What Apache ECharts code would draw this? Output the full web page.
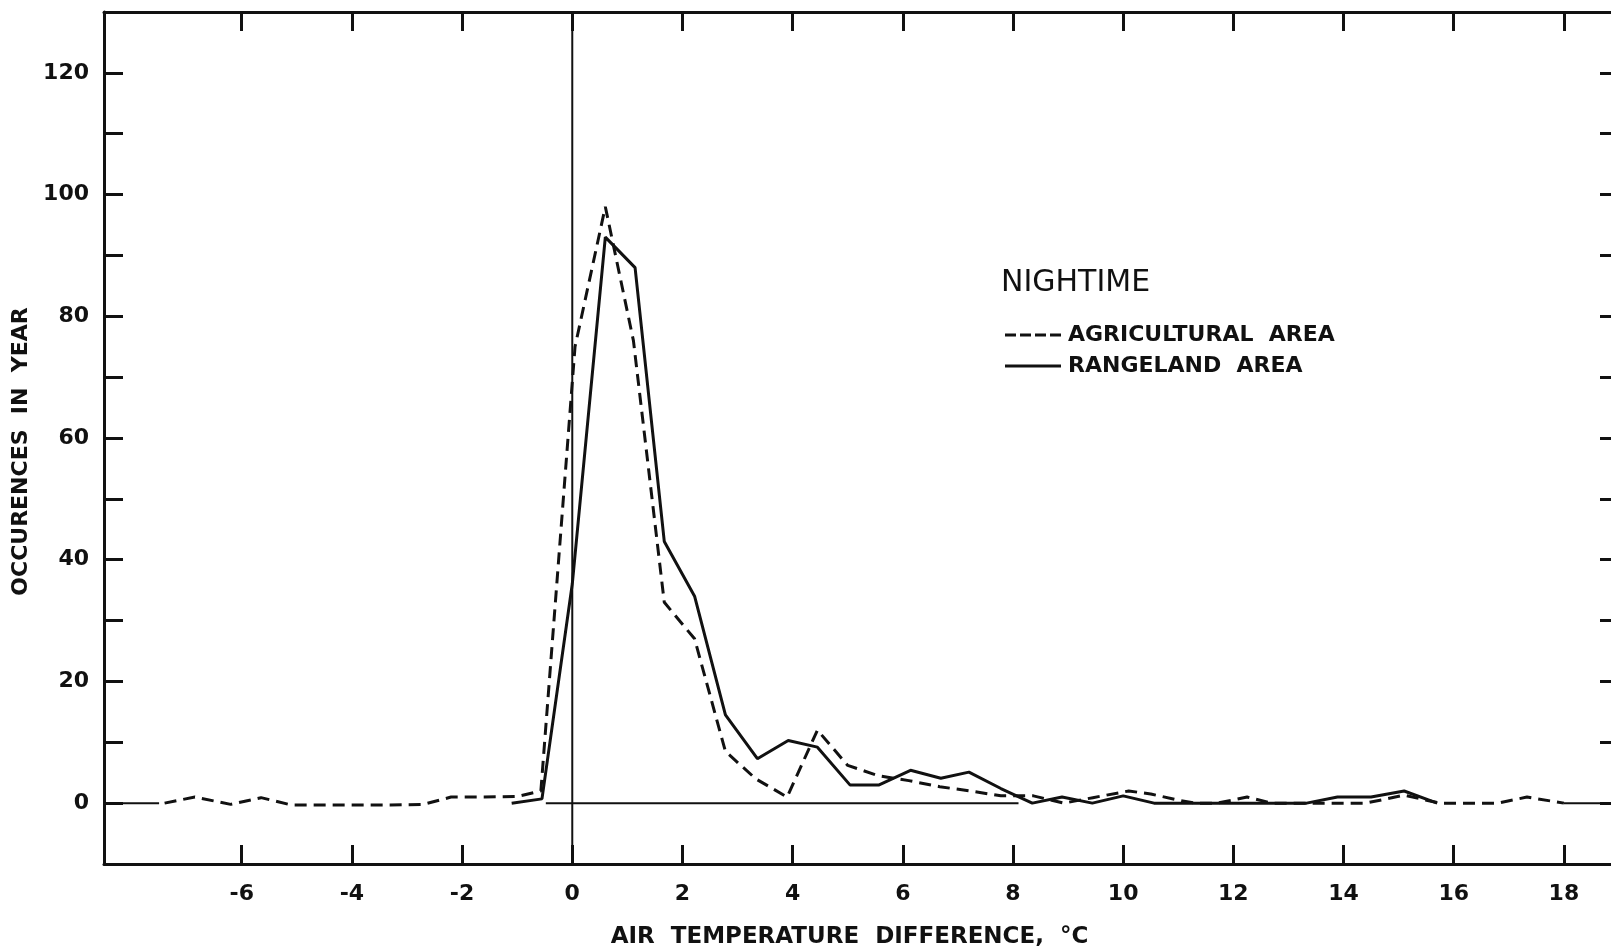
<!DOCTYPE html>
<html>
<head>
<meta charset="utf-8">
<script src="https://cdn.jsdelivr.net/npm/echarts@6/dist/echarts.min.js"></script>
<style>
  html, body { margin: 0; padding: 0; background: #fff; }
  #chart { width: 1611px; height: 949px; }
</style>
</head>
<body>
<div id="chart"></div>
<script>
// values
const agriTemp = [-7.4, -6.85, -6.2, -5.65, -5.1, -4.5, -3.9, -3.3, -2.7, -2.2, -1.6, -1.0, -0.57, 0.05, 0.6, 1.11, 1.67, 2.22, 2.78, 3.33, 3.9, 4.45, 5.0, 5.56, 6.11, 6.67, 7.22, 7.78, 8.37, 8.92, 9.45, 10.1, 10.5, 11.0, 11.3, 11.7, 12.25, 12.7, 13.3, 13.8, 14.4, 15.1, 15.75, 16.3, 16.8, 17.33, 18.0];
const agriCount = [0, 1, -0.2, 0.9, -0.3, -0.3, -0.3, -0.3, -0.2, 1, 1, 1.1, 2, 75, 98, 76, 33, 27, 8.5, 4, 1, 12, 6.2, 4.5, 3.7, 2.7, 2, 1.2, 1.2, 0, 0.9, 2, 1.5, 0.5, 0, 0, 1, 0, 0, 0, 0, 1.3, 0, 0, 0, 1, 0];

const rangeTemp = [-1.1, -0.55, 0, 0.6, 1.14, 1.67, 2.22, 2.78, 3.36, 3.92, 4.45, 5.04, 5.57, 6.14, 6.69, 7.2, 7.78, 8.35, 8.89, 9.44, 10.0, 10.56, 11.11, 11.67, 12.22, 12.78, 13.33, 13.89, 14.5, 15.1, 15.7];
const rangeCount = [0, 0.7, 36, 93, 88, 43, 34, 14.5, 7.3, 10.3, 9.2, 3, 3, 5.4, 4.1, 5.1, 2.4, 0, 1, 0, 1.2, 0, 0, 0, 0, 0, 0, 1, 1, 2, 0];

// pieces of the drawn zero lines
const baseSegments = [[-8.5, -7.5], [-0.48, 8.1], [18.0, 19]];
const zeroTempLine = [[0, -10], [0, 130]];

const xTicks = [-6, -4, -2, 0, 2, 4, 6, 8, 10, 12, 14, 16, 18];
const yTicks = [0, 10, 20, 30, 40, 50, 60, 70, 80, 90, 100, 110, 120];
const yLabels = [0, 20, 40, 60, 80, 100, 120];

const INK = '#111';
const FONT = 'DejaVu Sans';

const pairs = (xs, ys) => xs.map((x, i) => [x, ys[i]]);

let baseData = [];
baseSegments.forEach((s, i) => {
  if (i > 0) baseData.push([s[0], '-']);
  baseData.push([s[0], 0]);
  baseData.push([s[1], 0]);
});

const xAxisBase = {
  type: 'value',
  min: -8.5,
  max: 19,
  axisLine: { show: true, onZero: false, lineStyle: { color: INK, width: 3 } },
  axisTick: { show: true, inside: true, length: 19, customValues: xTicks, lineStyle: { color: INK, width: 3 } },
  splitLine: { show: false }
};
const yAxisBase = {
  type: 'value',
  min: -10,
  max: 130,
  interval: 10,
  axisLine: { show: true, onZero: false, lineStyle: { color: INK, width: 3 } },
  axisTick: { show: true, inside: true, length: 19, customValues: yTicks, lineStyle: { color: INK, width: 3 } },
  splitLine: { show: false }
};

const chart = echarts.init(document.getElementById('chart'));
chart.setOption({
  animation: false,
  backgroundColor: '#fff',
  textStyle: { fontFamily: FONT },
  grid: { left: 104, top: 12, right: -8, bottom: 85, outerBoundsMode: 'none' },
  title: {
    text: 'NIGHTIME',
    left: 996,
    top: 263,
    textStyle: { fontFamily: FONT, fontSize: 30, fontWeight: 'normal', color: INK }
  },
  legend: {
    orient: 'vertical',
    left: 1000,
    top: 319,
    itemWidth: 56,
    itemHeight: 3,
    itemGap: 9,
    data: [
      { name: 'AGRICULTURAL  AREA', icon: 'path://M0,0H11V3H0Z M15,0H26V3H15Z M30,0H41V3H30Z M45,0H56V3H45Z' },
      { name: 'RANGELAND  AREA', icon: 'path://M0,0H56V3H0Z' }
    ],
    itemStyle: { color: INK },
    textStyle: { fontFamily: FONT, fontSize: 22, fontWeight: 'bold', color: INK, padding: [0, 0, 0, 2] }
  },
  xAxis: [
    Object.assign({}, xAxisBase, {
      position: 'bottom',
      name: 'AIR  TEMPERATURE  DIFFERENCE,  \u00b0C',
      nameLocation: 'middle',
      nameGap: 62,
      nameTextStyle: { fontFamily: FONT, fontSize: 23, fontWeight: 'bold', color: INK, padding: [0, 24, 0, 0] },
      axisLabel: { show: true, customValues: xTicks, margin: 19, fontFamily: FONT, fontSize: 22, fontWeight: 'bold', color: INK }
    }),
    Object.assign({}, xAxisBase, { position: 'top', axisLabel: { show: false } })
  ],
  yAxis: [
    Object.assign({}, yAxisBase, {
      position: 'left',
      name: 'OCCURENCES  IN  YEAR',
      nameLocation: 'middle',
      nameGap: 69,
      nameTextStyle: { fontFamily: FONT, fontSize: 22, fontWeight: 'bold', color: INK, padding: [0, 27, 0, 0] },
      axisLabel: { show: true, customValues: yLabels, margin: 15, fontFamily: FONT, fontSize: 22, fontWeight: 'bold', color: INK }
    }),
    Object.assign({}, yAxisBase, { position: 'right', axisLabel: { show: false } })
  ],
  series: [
    {
      name: 'zero',
      type: 'line',
      data: baseData,
      symbol: 'none',
      silent: true,
      connectNulls: false,
      lineStyle: { color: INK, width: 2 }
    },
    {
      name: 'zero temp',
      type: 'line',
      data: zeroTempLine,
      symbol: 'none',
      silent: true,
      lineStyle: { color: INK, width: 2 }
    },
    {
      name: 'AGRICULTURAL  AREA',
      type: 'line',
      data: pairs(agriTemp, agriCount),
      symbol: 'none',
      lineStyle: { color: INK, width: 3, type: [12, 7] },
      itemStyle: { color: INK }
    },
    {
      name: 'RANGELAND  AREA',
      type: 'line',
      data: pairs(rangeTemp, rangeCount),
      symbol: 'none',
      lineStyle: { color: INK, width: 3, type: 'solid' },
      itemStyle: { color: INK }
    }
  ]
});
</script>
</body>
</html>
